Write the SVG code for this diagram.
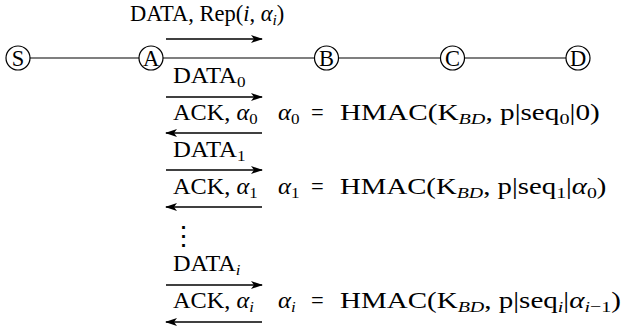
<svg xmlns="http://www.w3.org/2000/svg" width="630" height="331" viewBox="0 0 630 331">
  <style>
    text { font-family: "Liberation Serif", "Times New Roman", serif; font-size: 22.5px; fill: #000; }
    .it { font-style: italic; }
    .sub { font-size: 15.5px; }
    .node circle { fill: #fff; stroke: #000; stroke-width: 1.2; }
    .node text { text-anchor: middle; }
    .link { stroke: #000; stroke-width: 1.2; fill: none; }
    .msg { stroke: #000; stroke-width: 1.3; fill: none; marker-end: url(#head); }
    .dots { font-family: "DejaVu Serif", serif; font-size: 27px; text-anchor: middle; }
  </style>
  <defs>
    <marker id="head" viewBox="0 0 12 8" refX="11" refY="4" markerWidth="12" markerHeight="8" markerUnits="userSpaceOnUse" orient="auto">
      <path d="M0,0 L12,4 L0,8 L3,4 Z" fill="#000"/>
    </marker>
  </defs>

  <!-- chain of nodes -->
  <g id="connectors">
    <line class="link" x1="30" y1="58" x2="139" y2="58"/>
    <line class="link" x1="163" y1="58" x2="314.5" y2="58"/>
    <line class="link" x1="338.5" y1="58" x2="440.5" y2="58"/>
    <line class="link" x1="464.5" y1="58" x2="566" y2="58"/>

    <!-- message arrows between A and B -->
    <line class="msg" x1="166" y1="39" x2="262" y2="39"/>
    <line class="msg" x1="166" y1="97" x2="262" y2="97"/>
    <line class="msg" x1="262" y1="133" x2="166" y2="133"/>
    <line class="msg" x1="166" y1="170" x2="262" y2="170"/>
    <line class="msg" x1="262" y1="207" x2="166" y2="207"/>
    <line class="msg" x1="166" y1="285" x2="262" y2="285"/>
    <line class="msg" x1="262" y1="322" x2="166" y2="322"/>
  </g>

  <g id="node-S" class="node"><circle cx="18" cy="58" r="12"/><text x="18" y="65.5">S</text></g>
  <g id="node-A" class="node"><circle cx="151" cy="58" r="12"/><text x="151" y="65.5">A</text></g>
  <g id="node-B" class="node"><circle cx="326.5" cy="58" r="12"/><text x="326.5" y="65.5">B</text></g>
  <g id="node-C" class="node"><circle cx="452.5" cy="58" r="12"/><text x="452.5" y="65.5">C</text></g>
  <g id="node-D" class="node"><circle cx="578" cy="58" r="12"/><text x="578" y="65.5">D</text></g>

  <!-- message labels -->
  <g id="labels">
    <text x="130" y="21">DATA, Rep(<tspan class="it">i</tspan>, <tspan class="it">α</tspan><tspan class="it sub" dy="4">i</tspan><tspan dy="-4">)</tspan></text>

    <text transform="translate(173,83) scale(1.1,1)">DATA<tspan class="sub" dy="4">0</tspan></text>
    <text transform="translate(173,120) scale(1.08,1)">ACK, <tspan class="it">α</tspan><tspan class="sub" dy="4">0</tspan></text>
    <text transform="translate(278,120) scale(1.1,1)"><tspan class="it">α</tspan><tspan class="sub" dy="4">0</tspan></text>
    <text x="311" y="120">=</text>
    <text transform="translate(340,120) scale(1.3,1)">HMAC(K<tspan class="it sub" dy="4">BD</tspan><tspan dy="-4">, p|seq</tspan><tspan class="sub" dy="4">0</tspan><tspan dy="-4">|0)</tspan></text>

    <text transform="translate(173,157) scale(1.1,1)">DATA<tspan class="sub" dy="4">1</tspan></text>
    <text transform="translate(173,194) scale(1.08,1)">ACK, <tspan class="it">α</tspan><tspan class="sub" dy="4">1</tspan></text>
    <text transform="translate(278,194) scale(1.1,1)"><tspan class="it">α</tspan><tspan class="sub" dy="4">1</tspan></text>
    <text x="311" y="194">=</text>
    <text transform="translate(340,194) scale(1.28,1)">HMAC(K<tspan class="it sub" dy="4">BD</tspan><tspan dy="-4">, p|seq</tspan><tspan class="sub" dy="4">1</tspan><tspan dy="-4">|</tspan><tspan class="it">α</tspan><tspan class="sub" dy="4">0</tspan><tspan dy="-4">)</tspan></text>

    <text class="dots" x="183" y="245">⋮</text>

    <text transform="translate(173,271) scale(1.08,1)">DATA<tspan class="it sub" dy="4">i</tspan></text>
    <text transform="translate(173,308) scale(1.08,1)">ACK, <tspan class="it">α</tspan><tspan class="it sub" dy="4">i</tspan></text>
    <text transform="translate(278,308) scale(1.1,1)"><tspan class="it">α</tspan><tspan class="it sub" dy="4">i</tspan></text>
    <text x="311" y="308">=</text>
    <text transform="translate(340,308) scale(1.29,1)">HMAC(K<tspan class="it sub" dy="4">BD</tspan><tspan dy="-4">, p|seq</tspan><tspan class="it sub" dy="4">i</tspan><tspan dy="-4">|</tspan><tspan class="it">α</tspan><tspan class="sub" dy="4"><tspan class="it">i</tspan>−1</tspan><tspan dy="-4">)</tspan></text>
  </g>
</svg>
